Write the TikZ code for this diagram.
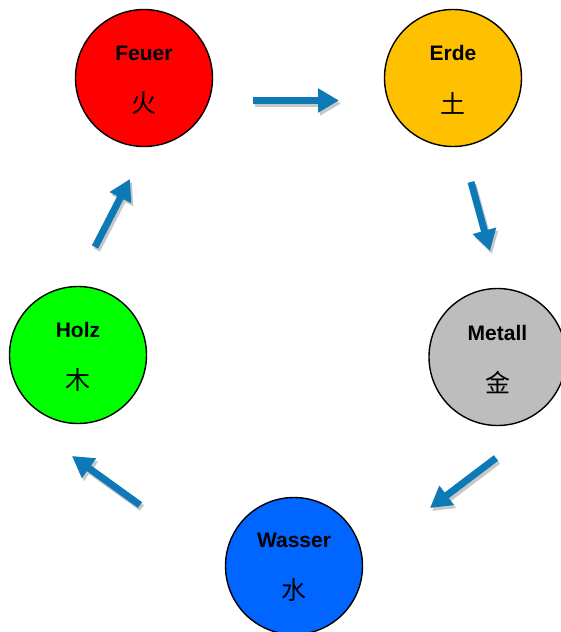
\documentclass[tikz,border=0pt]{standalone}
\usepackage{fontspec}
\setmainfont{Liberation Sans}
\newfontfamily\cjk{Noto Sans CJK SC}
\usetikzlibrary{arrows.meta}
\definecolor{arrowblue}{RGB}{14,121,183}
\definecolor{shadowgray}{RGB}{200,200,200}
\definecolor{feuercol}{RGB}{255,0,0}
\definecolor{erdecol}{RGB}{255,192,0}
\definecolor{metallcol}{RGB}{189,189,189}
\definecolor{wassercol}{RGB}{0,102,255}
\definecolor{holzcol}{RGB}{0,255,0}
\tikzset{
  element/.style={circle, draw=black, line width=1.4pt, minimum size=137pt, inner sep=0pt},
  elname/.style={font=\fontsize{21}{24}\selectfont\bfseries, inner sep=0pt},
  elchar/.style={font=\fontsize{25}{28}\selectfont\cjk, inner sep=0pt},
  bigarrow/.style={line width=7pt, arrowblue, -{Triangle[length=21pt,width=23pt]}},
  arrowshadow/.style={line width=7pt, shadowgray, -{Triangle[length=21pt,width=23pt]}, transform canvas={xshift=2pt,yshift=-3pt}}
}
\begin{document}
\begin{tikzpicture}[x=1pt,y=-1pt]
\useasboundingbox (0,0) rectangle (561,632);
\clip (0,0) rectangle (561,632);
\fill[white] (0,0) rectangle (561,632);
% circles
\node[element, fill=feuercol] (feuer) at (144,78) {};
\node[element, fill=erdecol] (erde) at (453,78) {};
\node[element, fill=metallcol] (metall) at (497.5,357) {};
\node[element, fill=wassercol] (wasser) at (294,566) {};
\node[element, fill=holzcol] (holz) at (78,355) {};
% labels
\node[elname] (feuerT) at ([yshift=25pt]feuer.center) {Feuer};
\node[elchar] (feuerC) at ([yshift=-25pt]feuer.center) {火};
\node[elname] (erdeT) at ([yshift=25pt]erde.center) {Erde};
\node[elchar] (erdeC) at ([yshift=-25pt]erde.center) {土};
\node[elname] (metallT) at ([yshift=24pt]metall.center) {Metall};
\node[elchar] (metallC) at ([yshift=-26pt]metall.center) {金};
\node[elname] (wasserT) at ([yshift=26pt]wasser.center) {Wasser};
\node[elchar] (wasserC) at ([yshift=-24pt]wasser.center) {水};
\node[elname] (holzT) at ([yshift=25pt]holz.center) {Holz};
\node[elchar] (holzC) at ([yshift=-25pt]holz.center) {木};
% arrow end points
\coordinate (a1s) at (253,100.5); \coordinate (a1e) at (339,100.5);
\coordinate (a2s) at (471,182);   \coordinate (a2e) at (490,251);
\coordinate (a3s) at (496,458);   \coordinate (a3e) at (430,508);
\coordinate (a4s) at (140,505);   \coordinate (a4e) at (72,456);
\coordinate (a5s) at (95,247);    \coordinate (a5e) at (130,179);
% shadows
\foreach \i in {1,...,5} {
  \draw[arrowshadow] (a\i s) -- (a\i e);
}
% arrows
\foreach \i in {1,...,5} {
  \draw[bigarrow] (a\i s) -- (a\i e);
}
\end{tikzpicture}
\end{document}
